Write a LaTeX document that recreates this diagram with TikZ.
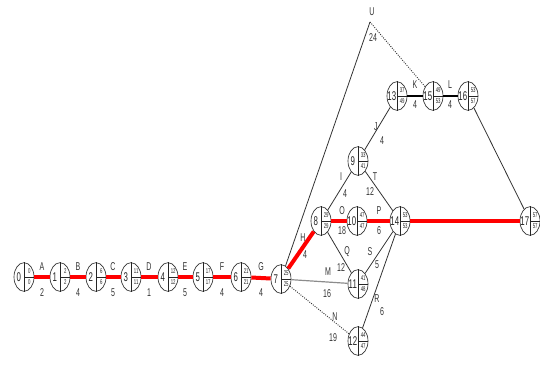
\documentclass[tikz,border=0pt]{standalone}
\usepackage{fontspec}
\setmainfont{Liberation Sans}
\newfontfamily\narrowfont[FakeStretch=0.62]{Liberation Sans}
\usetikzlibrary{shapes.geometric}
\tikzset{
  ev/.style={ellipse, draw=black!80, line width=0.5pt, minimum width=15pt, minimum height=21.5pt, inner sep=0pt, fill=white},
  evnum/.style={font=\narrowfont\fontsize{9.5}{9.5}\selectfont, inner sep=0pt, text=black!85},
  evval/.style={font=\narrowfont\fontsize{5.2}{5.2}\selectfont, inner sep=0pt, text=black!85},
  lab/.style={font=\narrowfont\fontsize{8.5}{9}\selectfont, inner sep=0pt, text=black!80},
  crit/.style={red, line width=3pt},
  act/.style={black!80, line width=0.6pt},
  heavy/.style={black, line width=1.4pt},
  grayact/.style={black!45, line width=0.9pt},
  dum/.style={black!80, line width=0.7pt, densely dotted},
  divl/.style={black!85, line width=0.5pt}
}
\newcommand\evt[5]{%
  \node[ev] (#1) at (#2) {};
  \draw[divl] (#1.north) -- (#1.south);
  \draw[divl] (#1.center) -- (#1.east);
  \node[evnum] (#1num) at ([xshift=-3.9pt]#1.center) {#3};
  \node[evval] (#1e) at ([xshift=3.9pt,yshift=4.1pt]#1.center) {#4};
  \node[evval] (#1l) at ([xshift=3.9pt,yshift=-4.1pt]#1.center) {#5};
}
\begin{document}
\begin{tikzpicture}[x=0.75pt,y=-0.75pt]
\useasboundingbox (0,0) rectangle (540,365);
% events
\evt{n0}{24,277}{0}{0}{0}
\evt{n1}{60,277}{1}{2}{2}
\evt{n2}{96,277}{2}{6}{6}
\evt{n3}{131,277}{3}{11}{11}
\evt{n4}{168,277}{4}{12}{12}
\evt{n5}{203,277}{5}{17}{17}
\evt{n6}{241,277}{6}{21}{21}
\evt{n7}{281,279}{7}{25}{25}
\evt{n8}{321,221}{8}{29}{29}
\evt{n9}{358,161}{9}{33}{41}
\evt{n10}{357,221}{10}{47}{47}
\evt{n11}{358,284}{11}{41}{48}
\evt{n12}{358,341}{12}{44}{47}
\evt{n13}{397,96}{13}{37}{49}
\evt{n14}{400,221}{14}{53}{53}
\evt{n15}{433,96}{15}{49}{53}
\evt{n16}{468,96}{16}{53}{57}
\evt{n17}{530,221}{17}{57}{57}
\coordinate (uapex) at (370,22);
% activities
\draw[crit] (n0) -- (n1);
\draw[crit] (n1) -- (n2);
\draw[crit] (n2) -- (n3);
\draw[crit] (n3) -- (n4);
\draw[crit] (n4) -- (n5);
\draw[crit] (n5) -- (n6);
\draw[crit] (n6) -- (n7);
\draw[crit] (n7) -- (n8);
\draw[crit] (n8) -- (n10);
\draw[crit] (n10) -- (n14);
\draw[crit] (n14) -- (n17);
\draw[grayact] (n7) -- (n11);
\draw[dum] (n7) -- (n12);
\draw[act] (n7) -- (uapex);
\draw[dum] (uapex) -- (n15);
\draw[act] (n8) -- (n9);
\draw[act] (n8) -- (n11);
\draw[act] (n9) -- (n13);
\draw[act] (n9) -- (n14);
\draw[heavy] (n13) -- (n15);
\draw[heavy] (n15) -- (n16);
\draw[act] (n16) -- (n17);
\draw[act] (n11) -- (n14);
\draw[act] (n12) -- (n14);
% labels
\node[lab] (lA) at (42,267) {A};   \node[lab] (dA) at (42,293) {2};
\node[lab] (lB) at (78,267) {B};   \node[lab] (dB) at (78,293) {4};
\node[lab] (lC) at (113,267) {C};  \node[lab] (dC) at (113,293) {5};
\node[lab] (lD) at (149,267) {D};  \node[lab] (dD) at (149,293) {1};
\node[lab] (lE) at (185,267) {E};  \node[lab] (dE) at (185,293) {5};
\node[lab] (lF) at (222,267) {F};  \node[lab] (dF) at (222,293) {4};
\node[lab] (lG) at (261,267) {G};  \node[lab] (dG) at (261,293) {4};
\node[lab] (lH) at (303,238) {H};  \node[lab] (dH) at (305,255) {4};
\node[lab] (lM) at (328,272) {M};  \node[lab] (dM) at (327,294) {16};
\node[lab] (lN) at (335,317) {N};  \node[lab] (dN) at (333,338) {19};
\node[lab] (lU) at (372,12) {U};   \node[lab] (dU) at (373,38) {24};
\node[lab] (lI) at (341,177) {I};  \node[lab] (dI) at (345,194) {4};
\node[lab] (lO) at (342,211) {O};  \node[lab] (dO) at (342,231) {18};
\node[lab] (lQ) at (347,252) {Q};  \node[lab] (dQ) at (341,268) {12};
\node[lab] (lJ) at (376,127) {J};  \node[lab] (dJ) at (382,141) {4};
\node[lab] (lT) at (375,177) {T};  \node[lab] (dT) at (370,192) {12};
\node[lab] (lP) at (379,211) {P};  \node[lab] (dP) at (379,231) {6};
\node[lab] (lS) at (370,252) {S};  \node[lab] (dS) at (377,265) {5};
\node[lab] (lR) at (377,299) {R};  \node[lab] (dR) at (382,312) {6};
\node[lab] (lK) at (415,85) {K};   \node[lab] (dK) at (415,105) {4};
\node[lab] (lL) at (450,85) {L};   \node[lab] (dL) at (450,105) {4};
\end{tikzpicture}
\end{document}
